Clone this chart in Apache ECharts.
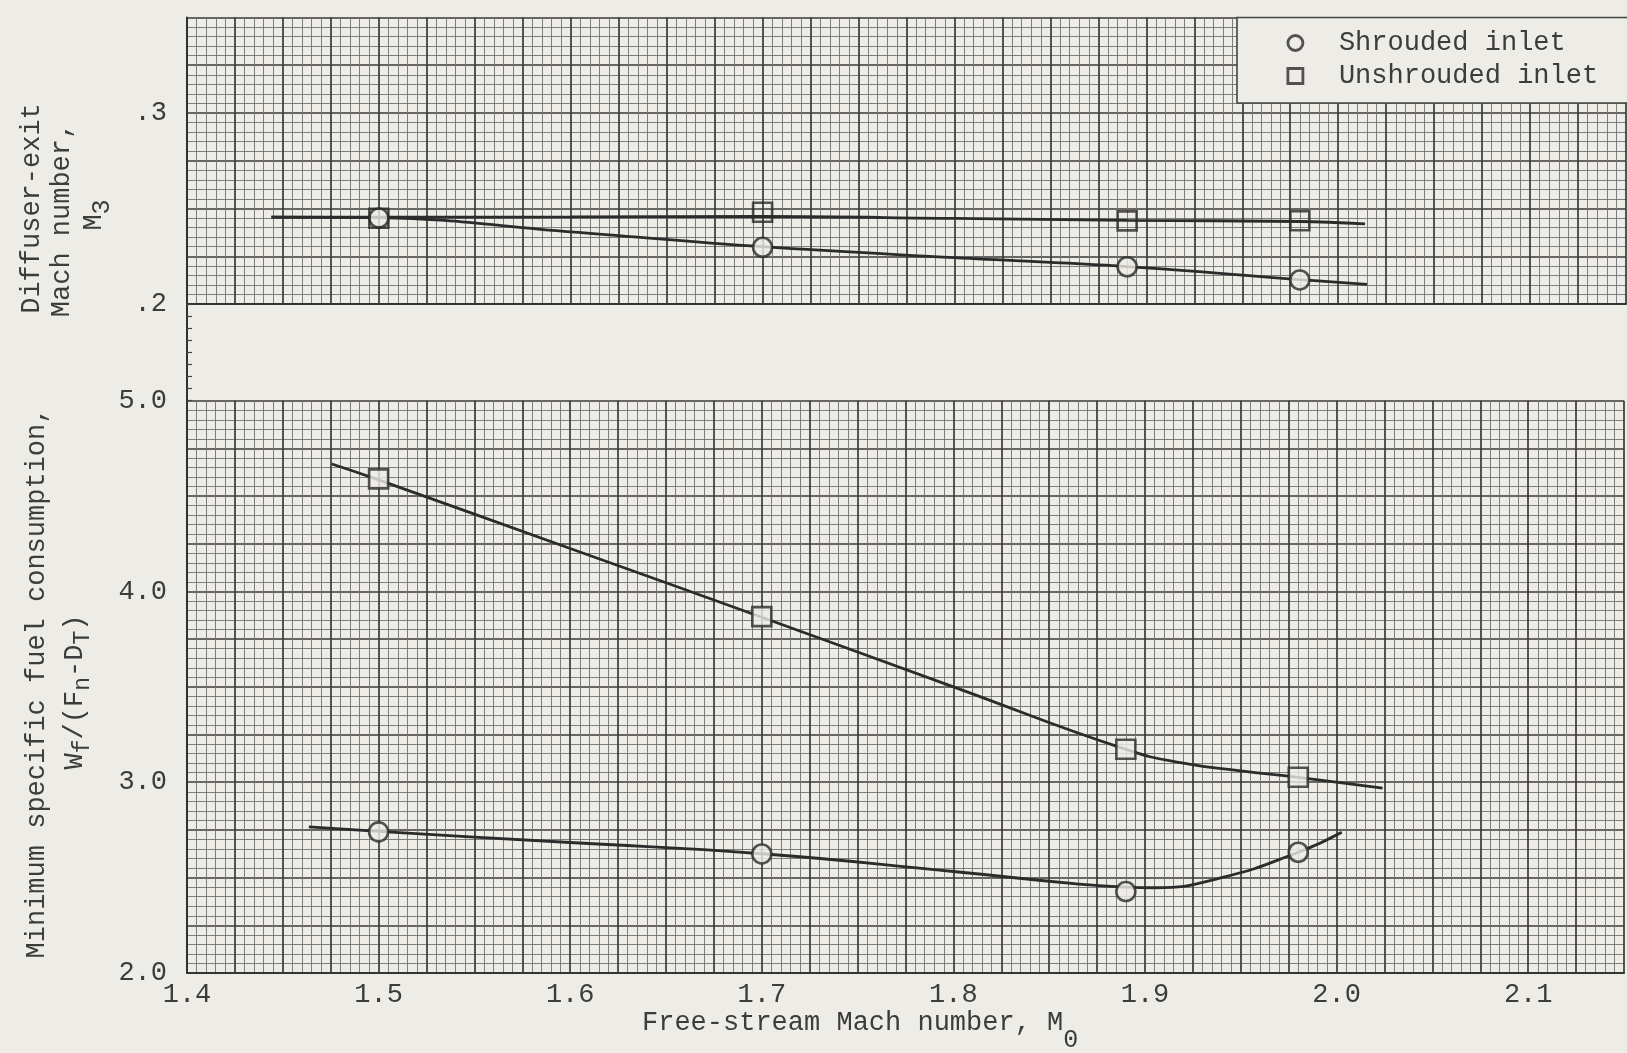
<!DOCTYPE html>
<html><head><meta charset="utf-8">
<script src="https://cdn.jsdelivr.net/npm/echarts@6/dist/echarts.min.js"></script>
<style>html,body{margin:0;padding:0;background:#edece6;} #c{width:1627px;height:1053px;}</style>
</head><body><div id="c"></div>
<script>
// ---- data ----
const machPoints = [1.5, 1.7, 1.89, 1.98];
const exitMachShrouded = [0.2450, 0.2297, 0.2195, 0.2126];
const exitMachUnshrouded = [0.2449, 0.2480, 0.2435, 0.2436];
const sfcShrouded = [2.740, 2.624, 2.427, 2.633];
const sfcUnshrouded = [4.590, 3.868, 3.173, 3.026];

// faired curves
const fairExitShroudedX = [1.444, 1.5, 1.6, 1.7, 1.8, 1.89, 1.98, 2.015];
const fairExitShroudedY = [0.2455, 0.2452, 0.2378, 0.2300, 0.2243, 0.2196, 0.2128, 0.2103];
const fairExitUnshroudedX = [1.444, 1.5, 1.6, 1.7, 1.8, 1.89, 1.98, 2.014];
const fairExitUnshroudedY = [0.2455, 0.2455, 0.2456, 0.2458, 0.2448, 0.2438, 0.2432, 0.2420];
const fairSfcUnshroudedX = [1.4756, 1.5, 1.6, 1.7, 1.8, 1.89, 1.92, 1.95, 1.98, 2.024];
const fairSfcUnshroudedY = [4.668, 4.585, 4.225, 3.865, 3.500, 3.172, 3.100, 3.060, 3.026, 2.969];
const fairSfcShroudedX = [1.4636, 1.5, 1.6, 1.7, 1.8, 1.8656, 1.89, 1.905, 1.94, 1.98, 2.0027];
const fairSfcShroudedY = [2.766, 2.742, 2.684, 2.625, 2.532, 2.466, 2.450, 2.447, 2.500, 2.633, 2.738];

const xTickLabels = [1.4, 1.5, 1.6, 1.7, 1.8, 1.9, 2.0, 2.1];
const topYTickLabels = [0.2, 0.3];
const bottomYTickLabels = [2.0, 3.0, 4.0, 5.0];
const legendNames = ['Shrouded inlet', 'Unshrouded inlet'];

// ---- style ----
const BG = '#edece6';
const INK = '#2b2b2b';
const TXT = '#3c3c3c';
const FONT = 'Liberation Mono';
const FS = 27;
const isIn = (arr, v) => arr.some(t => Math.abs(t - v) < 1e-6);
const zip = (xs, ys) => xs.map((x, i) => [x, ys[i]]);

const major = { show: true, lineStyle: { color: '#3a3a3a', width: 1.7 } };
const minor = { show: true, lineStyle: { color: '#727272', width: 0.9 } };

function xAxisCfg(grid, showLabels) {
  return {
    type: 'value', gridIndex: grid, min: 1.4, max: 2.15, interval: 0.025,
    axisLine: { show: true, onZero: false, lineStyle: { color: '#333', width: 2 } },
    axisTick: { show: false },
    minorTick: { show: true, splitNumber: 5, length: 0 },
    splitLine: major, minorSplitLine: minor,
    axisLabel: {
      show: showLabels, margin: 8, fontFamily: FONT, fontSize: FS, color: TXT,
      formatter: v => isIn(xTickLabels, v) ? v.toFixed(1) : ''
    }
  };
}

const lineStyle = { color: INK, width: 2.8 };
const markStyle = { color: BG, borderColor: INK, borderWidth: 2.6 };

const chart = echarts.init(document.getElementById('c'), null, { renderer: 'canvas' });
chart.setOption({
  animation: false,
  backgroundColor: BG,
  grid: [
    { left: 187, top: 17.5, width: 1439, height: 286.5 },
    { left: 187, top: 304, width: 1439, height: 96.7 },
    { left: 187, top: 400.7, width: 1439, height: 572.3 }
  ],
  xAxis: [
    xAxisCfg(0, false),
    { type: 'value', gridIndex: 1, min: 1.4, max: 2.15, show: false },
    xAxisCfg(2, true)
  ],
  yAxis: [
    {
      type: 'value', gridIndex: 0, min: 0.2, max: 0.35, interval: 0.025,
      axisLine: { show: true, lineStyle: { color: '#333', width: 2 } },
      axisTick: { show: false },
      minorTick: { show: true, splitNumber: 5, length: 0 },
      splitLine: major, minorSplitLine: minor,
      axisLabel: {
        margin: 20, fontFamily: FONT, fontSize: FS, color: TXT, padding: [10, 0, 0, 0],
        formatter: v => isIn(topYTickLabels, v) ? '.' + Math.round(v * 10) : ''
      }
    },
    {
      type: 'value', gridIndex: 1, min: 0, max: 8, interval: 1,
      axisLine: { show: true, lineStyle: { color: '#333', width: 2 } },
      axisTick: { show: true, inside: true, length: 5, lineStyle: { color: '#444', width: 1.2 } },
      axisLabel: { show: false }, splitLine: { show: false }
    },
    {
      type: 'value', gridIndex: 2, min: 2.0, max: 5.0, interval: 0.25,
      axisLine: { show: true, lineStyle: { color: '#333', width: 2 } },
      axisTick: { show: false },
      minorTick: { show: true, splitNumber: 5, length: 0 },
      splitLine: major, minorSplitLine: minor,
      axisLabel: {
        margin: 20, fontFamily: FONT, fontSize: FS, color: TXT, padding: [14, 0, 0, 0],
        formatter: v => isIn(bottomYTickLabels, v) ? v.toFixed(1) : ''
      }
    }
  ],
  legend: {
    data: [{ name: legendNames[0], icon: 'circle' }, { name: legendNames[1], icon: 'rect' }],
    orient: 'vertical', left: 1286.5, top: 28, padding: 0, itemGap: 3,
    itemWidth: 15, itemHeight: 15, selectedMode: false, z: 60,
    itemStyle: { color: BG, borderColor: INK, borderWidth: 2.8 },
    textStyle: { fontFamily: FONT, fontSize: FS, color: TXT, lineHeight: 30, padding: [0, 0, 0, 31] }
  },
  graphic: [
    { type: 'rect', z: 50, shape: { x: 1237, y: 17.5, width: 400, height: 85.5 },
      style: { fill: BG, stroke: '#444', lineWidth: 1.6 } },
    { type: 'text', z: 100, x: 642, y: 1023,
      style: { text: 'Free-stream Mach number, M{s|0}', fontFamily: FONT, fontSize: FS, fill: TXT,
        align: 'left', verticalAlign: 'middle',
        rich: { s: { fontFamily: FONT, fontSize: 25, fill: TXT, padding: [34, 0, 0, 0] } } } },
    { type: 'text', z: 100, x: 31.7, y: 208.5, rotation: Math.PI / 2,
      style: { text: 'Diffuser-exit', fontFamily: FONT, fontSize: FS, fill: TXT, align: 'center', verticalAlign: 'middle' } },
    { type: 'text', z: 100, x: 61.7, y: 220, rotation: Math.PI / 2,
      style: { text: 'Mach number,', fontFamily: FONT, fontSize: FS, fill: TXT, align: 'center', verticalAlign: 'middle' } },
    { type: 'text', z: 100, x: 94, y: 215, rotation: Math.PI / 2,
      style: { text: 'M{s|3}', fontFamily: FONT, fontSize: FS, fill: TXT, align: 'center', verticalAlign: 'middle',
        rich: { s: { fontFamily: FONT, fontSize: 25, fill: TXT, padding: [16, 0, 0, 0] } } } },
    { type: 'text', z: 100, x: 36.7, y: 683, rotation: Math.PI / 2,
      style: { text: 'Minimum specific fuel consumption,', fontFamily: FONT, fontSize: FS, fill: TXT, align: 'center', verticalAlign: 'middle' } },
    { type: 'text', z: 100, x: 75, y: 692, rotation: Math.PI / 2,
      style: { text: 'W{s|f}/(F{s|n}-D{s|T})', fontFamily: FONT, fontSize: FS, fill: TXT, align: 'center', verticalAlign: 'middle',
        rich: { s: { fontFamily: FONT, fontSize: 23, fill: TXT, padding: [16, 0, 0, 0] } } } }
  ],
  series: [
    { type: 'line', name: 'fair-exit-unshrouded', xAxisIndex: 0, yAxisIndex: 0, data: zip(fairExitUnshroudedX, fairExitUnshroudedY),
      showSymbol: false, smooth: 0.4, silent: true, lineStyle: lineStyle, z: 3 },
    { type: 'line', name: 'fair-exit-shrouded', xAxisIndex: 0, yAxisIndex: 0, data: zip(fairExitShroudedX, fairExitShroudedY),
      showSymbol: false, smooth: 0.4, silent: true, lineStyle: lineStyle, z: 3 },
    { type: 'line', name: 'fair-sfc-unshrouded', xAxisIndex: 2, yAxisIndex: 2, data: zip(fairSfcUnshroudedX, fairSfcUnshroudedY),
      showSymbol: false, smooth: 0.5, silent: true, lineStyle: lineStyle, z: 3 },
    { type: 'line', name: 'fair-sfc-shrouded', xAxisIndex: 2, yAxisIndex: 2, data: zip(fairSfcShroudedX, fairSfcShroudedY),
      showSymbol: false, smooth: 0.5, silent: true, lineStyle: lineStyle, z: 3 },
    { type: 'scatter', name: legendNames[0], xAxisIndex: 0, yAxisIndex: 0, data: zip(machPoints, exitMachShrouded),
      symbol: 'circle', symbolSize: 19, itemStyle: markStyle, z: 5 },
    { type: 'scatter', name: legendNames[1], xAxisIndex: 0, yAxisIndex: 0, data: zip(machPoints, exitMachUnshrouded),
      symbol: 'rect', symbolSize: 19, itemStyle: { color: 'rgba(0,0,0,0)', borderColor: INK, borderWidth: 2.6 }, z: 6 },
    { type: 'scatter', name: legendNames[0], xAxisIndex: 2, yAxisIndex: 2, data: zip(machPoints, sfcShrouded),
      symbol: 'circle', symbolSize: 19, itemStyle: markStyle, z: 5 },
    { type: 'scatter', name: legendNames[1], xAxisIndex: 2, yAxisIndex: 2, data: zip(machPoints, sfcUnshrouded),
      symbol: 'rect', symbolSize: 19, itemStyle: markStyle, z: 5 }
  ]
});
</script>
</body></html>
